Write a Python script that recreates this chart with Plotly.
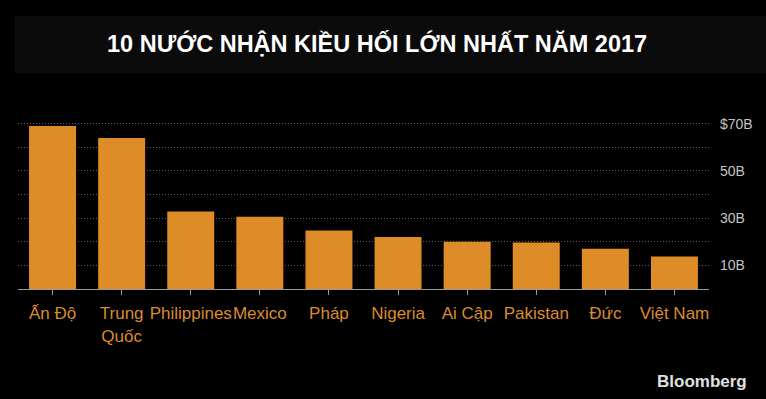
import plotly.graph_objects as go

countries = ["Ấn Độ", "Trung<br>Quốc", "Philippines", "Mexico", "Pháp",
             "Nigeria", "Ai Cập", "Pakistan", "Đức", "Việt Nam"]
values = [69.0, 64.0, 32.8, 30.6, 24.8, 22.0, 20.0, 19.7, 17.1, 13.8]
ytick_vals = [10, 20, 30, 40, 50, 60, 70]
ytick_text = ["10B", "", "30B", "", "50B", "", "$70B"]

title = "10 NƯỚC NHẬN KIỀU HỐI LỚN NHẤT NĂM 2017"
orange = "#DE8C27"

fig = go.Figure(go.Bar(x=countries, y=values, marker=dict(color=orange, line=dict(width=0)),
                       hoverinfo="skip"))

fig.update_layout(
    width=766, height=399,
    paper_bgcolor="#000000", plot_bgcolor="#000000",
    margin=dict(l=18, r=57, t=119, b=110),
    bargap=0.32,
    showlegend=False,
    font=dict(family="Liberation Sans, Arial, sans-serif"),
    xaxis=dict(
        showgrid=False, showline=True, linecolor="#9a9a9a", linewidth=1,
        ticks="outside", ticklen=5, tickcolor="#9a9a9a", tickwidth=1,
        tickangle=0,
        tickfont=dict(size=17, color="#DB8B2C"), ticklabelstandoff=4,
        zeroline=False, fixedrange=True,
    ),
    yaxis=dict(
        side="right", range=[0, 72],
        tickvals=ytick_vals, ticktext=ytick_text,
        showgrid=True, gridcolor="#5e5e5e", griddash="1px,2px", gridwidth=1,
        tickfont=dict(size=14, color="#c4c4c4"), ticks="", ticklabelstandoff=10,
        zeroline=False, showline=False, fixedrange=True,
    ),
    shapes=[dict(type="rect", xref="paper", yref="paper",
                 x0=-3 / 691, x1=(766 - 18) / 691,
                 y0=1 + (119 - 73) / 170, y1=1 + (119 - 16) / 170,
                 fillcolor="#0b0b0b", line=dict(width=0), layer="below")],
    annotations=[
        dict(text="<b>" + title + "</b>", xref="paper", yref="paper",
             x=(377 - 18) / 691, y=1 + (119 - 43) / 170, xanchor="center", yanchor="middle",
             showarrow=False, font=dict(size=23.5, color="#ffffff")),
        dict(text="<b>Bloomberg</b>", xref="paper", yref="paper",
             x=(749 - 18) / 691, y=-(381 - 289) / 170, xanchor="right", yanchor="middle",
             showarrow=False, font=dict(size=17, color="#e0e0e0")),
    ],
)

fig.write_html("out.html", config={"displayModeBar": False},
               post_script="document.body.style.margin='0';document.body.style.background='#000';")
